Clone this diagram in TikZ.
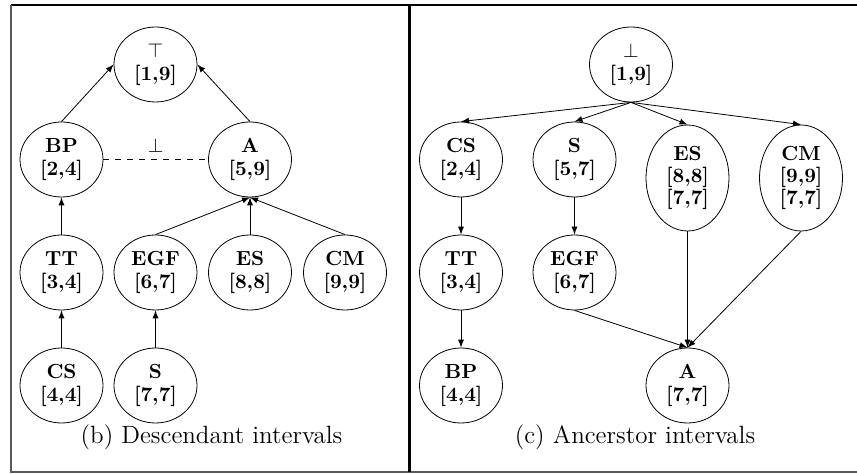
\documentclass[tikz,border=0pt]{standalone}
\usepackage{amsthm, amsmath, amssymb}
\usepackage{tikz}
\usetikzlibrary{shapes.geometric}

\newcommand{\ivtext}[2]{\textbf{#1}\\\textbf{#2}}

\begin{document}
\begin{tikzpicture}
      [x=.5pt, y=.5pt, >=latex,
        iv/.style={ellipse, draw, inner sep=0pt, align=center,
          minimum width=41.5pt, minimum height=37.5pt,
          font=\fontsize{10.2}{11.2}\selectfont},
        tall/.style={iv, minimum height=53pt},
        subcap/.style={font=\fontsize{12.5}{14}\selectfont}]
      \useasboundingbox (0,0) rectangle (857,-474);
      % frame
      \draw[line width=1pt] (11,-5) -- (857,-5);
      \draw[line width=1pt, black!65] (11,-5) -- (11,-472) -- (857,-472);
      \draw[line width=1.2pt] (409.5,-5) -- (409.5,-472);
      % (b) descendant intervals
      \node[iv] (top) at (155.5,-64.5) {$\top$\\\textbf{[1,9]}};
      \node[iv] (bp) at (61.5,-159.5) {\ivtext{BP}{[2,4]}};
      \node[iv] (a) at (250,-159.5) {\ivtext{A}{[5,9]}};
      \node[iv] (tt) at (61.5,-272.5) {\ivtext{TT}{[3,4]}};
      \node[iv] (egf) at (155.5,-272.5) {\ivtext{EGF}{[6,7]}};
      \node[iv] (es) at (250,-272.5) {\ivtext{ES}{[8,8]}};
      \node[iv] (cm) at (345,-272.5) {\ivtext{CM}{[9,9]}};
      \node[iv] (cs) at (61.5,-385.5) {\ivtext{CS}{[4,4]}};
      \node[iv] (s) at (155.5,-385.5) {\ivtext{S}{[7,7]}};
      \node[subcap] (capb) at (211.5,-437) {(b) Descendant intervals};
      \draw[->] (bp.north) -- (top.west);
      \draw[->] (a.north) -- (top.east);
      \draw[dashed] (bp.east) -- node[above] {$\bot$} (a.west);
      \draw[->] (tt.north) -- (bp.south);
      \draw[->] (egf.north) -- (a.south);
      \draw[->] (es.north) -- (a.south);
      \draw[->] (cm.north) -- (a.south);
      \draw[->] (cs.north) -- (tt.south);
      \draw[->] (s.north) -- (egf.south);
      % (c) ancestor intervals
      \node[iv] (bot) at (631,-64.5) {$\bot$\\\textbf{[1,9]}};
      \node[iv] (cs2) at (461,-159.5) {\ivtext{CS}{[2,4]}};
      \node[iv] (s2) at (574.5,-159.5) {\ivtext{S}{[5,7]}};
      \node[tall] (es2) at (687.5,-178) {\ivtext{ES}{[8,8]}\\\textbf{[7,7]}};
      \node[tall] (cm2) at (801,-178) {\ivtext{CM}{[9,9]}\\\textbf{[7,7]}};
      \node[iv] (tt2) at (461,-272.5) {\ivtext{TT}{[3,4]}};
      \node[iv] (egf2) at (574.5,-272.5) {\ivtext{EGF}{[6,7]}};
      \node[iv] (bp2) at (461,-385.5) {\ivtext{BP}{[4,4]}};
      \node[iv] (a2) at (687.5,-385.5) {\ivtext{A}{[7,7]}};
      \node[subcap] (capc) at (635,-437) {(c) Ancerstor intervals};
      \draw[->] (bot.south) -- (cs2.north);
      \draw[->] (bot.south) -- (s2.north);
      \draw[->] (bot.south) -- (es2.north);
      \draw[->] (bot.south) -- (cm2.north);
      \draw[->] (cs2.south) -- (tt2.north);
      \draw[->] (s2.south) -- (egf2.north);
      \draw[->] (tt2.south) -- (bp2.north);
      \draw[->] (egf2.south) -- (a2.north);
      \draw[->] (es2.south) -- (a2.north);
      \draw[->] (cm2.south) -- (a2.north);
\end{tikzpicture}
\end{document}
